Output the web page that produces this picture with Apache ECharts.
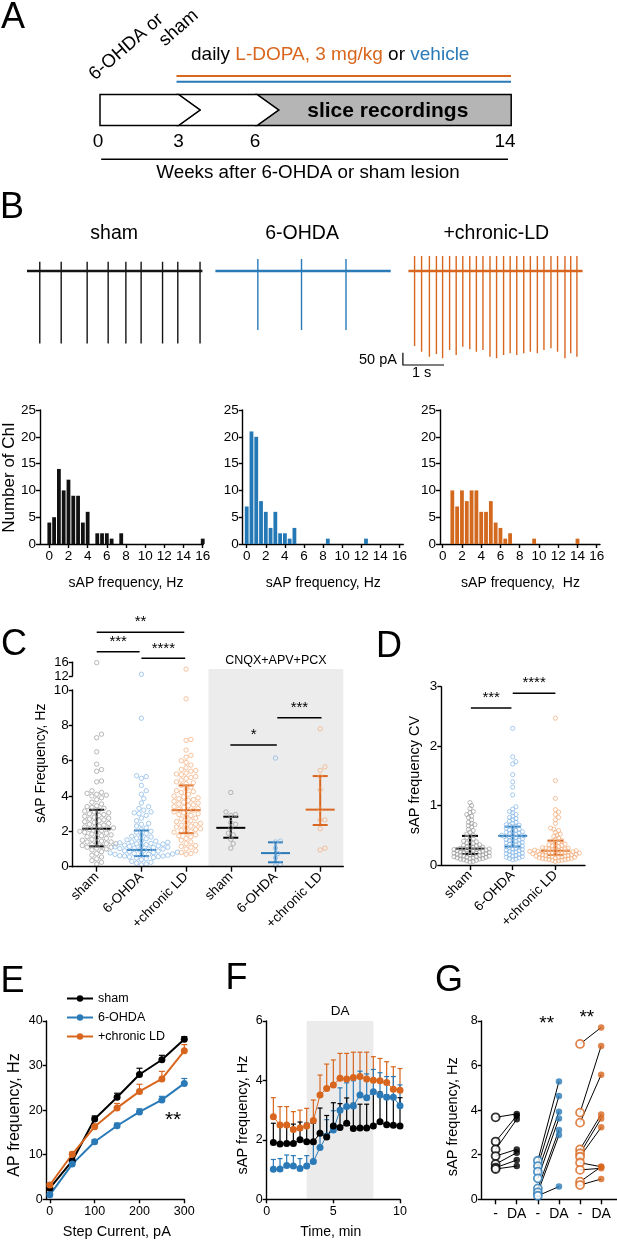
<!DOCTYPE html>
<html>
<head>
<meta charset="utf-8">
<script src="https://cdn.jsdelivr.net/npm/echarts@6/dist/echarts.min.js"></script>
<style>
html, body { margin: 0; padding: 0; background: #fff; }
#main { width: 617px; height: 1241px; }
</style>
</head>
<body>
<div id="main"></div>
<script>
const FONT = 'Liberation Sans';
const BLUE = '#2a7ab8', ORANGE = '#d8661e';
const GREY_PT = '#9c9c9c', BLUE_PT = '#86b7e6', ORANGE_PT = '#f3ad7a';

// ---- B: example traces (spike times in s, amplitudes in pA)
const shamSpikes = [0.31, 0.83, 1.46, 1.97, 2.4, 2.77, 3.29, 3.66, 4.2];
const ohdaSpikes = [1.03, 2.09, 3.17];
const ldSpikes = [0.15, 0.32, 0.51, 0.68, 0.83, 1.0, 1.16, 1.32, 1.49, 1.65, 1.81, 1.98, 2.14,
  2.31, 2.47, 2.63, 2.8, 2.96, 3.13, 3.29, 3.46, 3.62, 3.8, 3.94, 4.09];
const spikePeak = [37, 48, 60];
const shamTrough = -290, ohdaTrough = -236;
const ldTroughs = [-300, -323, -343, -332, -349, -316, -336, -303, -313, -323, -316, -343, -349,
  -336, -329, -336, -329, -323, -329, -316, -309, -323, -349, -329, -343];

// ---- B: histograms [bin, count]
const shamHist = [[0, 4], [0.5, 5], [1, 14], [1.5, 10], [2, 12], [2.5, 9], [3, 9], [3.5, 4], [4, 6],
  [5, 2], [5.5, 2], [6, 2], [6.5, 1], [7.5, 2], [16, 1]];
const ohdaHist = [[0, 7], [0.5, 21], [1, 20], [1.5, 8], [2, 6], [2.5, 3], [3, 6], [3.5, 2], [4, 2],
  [4.5, 1], [5, 3], [8.5, 1], [12.5, 1]];
const ldHist = [[1, 10], [1.5, 7], [2, 10], [2.5, 8], [3, 10], [3.5, 10], [4, 6], [4.5, 6], [5, 8],
  [5.5, 4], [6, 3], [6.5, 1], [7, 2], [9.5, 1], [14, 1]];
const histTicks = [0, 2, 4, 6, 8, 10, 12, 14, 16];

// ---- C: sAP frequency per cell, Hz
const groupLabels = ['sham', '6-OHDA', '+chronic LD'];
const cSham = [15.9, 7.5, 7.3, 6.5, 5.8, 5.5, 5.4, 4.85, 4.8, 4.3, 4.2, 4.15, 4.1, 4.05, 4.0, 3.9, 3.8,
  3.65, 3.55, 3.45, 3.4, 3.35, 3.3, 3.2, 3.15, 3.1, 3.05, 3.0, 2.95, 2.9, 2.85, 2.8, 2.75, 2.7, 2.65,
  2.6, 2.55, 2.5, 2.45, 2.4, 2.35, 2.3, 2.25, 2.2, 2.2, 2.15, 2.1, 2.05, 2.0, 1.95, 1.95, 1.9, 1.85,
  1.8, 1.75, 1.7, 1.65, 1.6, 1.55, 1.5, 1.45, 1.4, 1.4, 1.35, 1.3, 1.3, 1.25, 1.2, 1.15, 1.1, 1.1,
  1.05, 1.0, 0.95, 0.85, 0.75, 0.65, 0.55, 0.45, 0.35, 0.25, 0.15];
const cOhda = [12.5, 8.4, 5.15, 5.1, 5.0, 4.6, 4.3, 4.1, 3.85, 3.6, 3.4, 3.3, 3.2, 3.1, 3.05, 3.0,
  2.9, 2.75, 2.6, 2.45, 2.4, 2.3, 2.2, 2.1, 2.0, 1.95, 1.88, 1.8, 1.72, 1.68, 1.62, 1.58, 1.52, 1.48,
  1.45, 1.4, 1.38, 1.35, 1.32, 1.3, 1.28, 1.25, 1.22, 1.2, 1.18, 1.15, 1.12, 1.1, 1.08, 1.05, 1.02,
  1.0, 1.0, 0.95, 0.92, 0.9, 0.88, 0.85, 0.82, 0.8, 0.78, 0.75, 0.72, 0.7, 0.7, 0.68, 0.65, 0.62,
  0.6, 0.6, 0.57, 0.55, 0.52, 0.5, 0.45, 0.4, 0.3, 0.25, 0.2, 0.15, 0.1];
const cLd = [14.0, 9.5, 7.2, 7.15, 6.6, 6.3, 6.2, 6.0, 5.9, 5.75, 5.6, 5.5, 5.45, 5.4, 5.3, 5.25,
  5.2, 5.1, 5.05, 5.0, 4.9, 4.8, 4.75, 4.7, 4.6, 4.5, 4.4, 4.3, 4.25, 4.2, 4.1, 4.0, 3.95, 3.9, 3.85,
  3.8, 3.75, 3.7, 3.65, 3.6, 3.55, 3.5, 3.45, 3.4, 3.35, 3.3, 3.25, 3.2, 3.15, 3.1, 3.05, 3.0, 2.95,
  2.9, 2.8, 2.75, 2.7, 2.6, 2.55, 2.5, 2.45, 2.4, 2.35, 2.3, 2.25, 2.2, 2.15, 2.1, 2.05, 2.0, 1.95,
  1.9, 1.8, 1.75, 1.7, 1.6, 1.5, 1.4, 1.3, 1.2, 1.15, 1.1, 1.0, 0.9, 0.8, 0.75, 0.7];
const cShamBlock = [4.2, 3.1, 2.95, 2.9, 2.5, 2.4, 2.2, 1.9, 1.8, 1.55, 1.3, 1.05];
const cOhdaBlock = [6.15, 1.45, 1.4, 1.05, 0.75, 0.5, 0.1, 0.05];
const cLdBlock = [7.8, 5.65, 5.45, 5.1, 4.35, 3.25, 2.65, 2.65, 2.15, 1.05, 0.95];
const cMedian = [2.15, 0.95, 3.2, 2.2, 0.77, 3.23];
const cQ1 = [1.15, 0.6, 1.9, 1.64, 0.25, 2.36];
const cQ3 = [3.22, 2.05, 4.6, 2.83, 1.38, 5.13];
const cSigs = [[0, 13.27, 1.96], [0, 12.17, 0.96], [1.0, 11.79, 1.98], [2.99, 6.89, 4.03], [4.04, 8.43, 5.03]];
const cSigLabels = ['**', '***', '****', '*', '***'];

// ---- D: sAP frequency CV
const dSham = [1.05, 1.0, 0.95, 0.9, 0.88, 0.85, 0.82, 0.8, 0.76, 0.72, 0.7, 0.68, 0.66, 0.64, 0.6,
  0.58, 0.55, 0.52, 0.5, 0.48, 0.46, 0.44, 0.42, 0.4, 0.39, 0.37, 0.36, 0.35, 0.34, 0.33, 0.32, 0.31,
  0.3, 0.3, 0.29, 0.28, 0.28, 0.27, 0.27, 0.26, 0.26, 0.25, 0.25, 0.24, 0.24, 0.23, 0.23, 0.22, 0.22,
  0.21, 0.21, 0.2, 0.2, 0.19, 0.19, 0.18, 0.18, 0.17, 0.17, 0.16, 0.16, 0.15, 0.15, 0.14, 0.14, 0.13,
  0.13, 0.12, 0.12, 0.11, 0.11, 0.1, 0.1, 0.09, 0.08, 0.07, 0.06, 0.05];
const dOhda = [2.3, 1.82, 1.74, 1.7, 1.52, 1.4, 1.31, 1.18, 0.98, 0.94, 0.9, 0.88, 0.85, 0.82, 0.8,
  0.78, 0.76, 0.74, 0.72, 0.7, 0.68, 0.67, 0.66, 0.65, 0.64, 0.62, 0.6, 0.59, 0.58, 0.57, 0.56, 0.55,
  0.54, 0.53, 0.52, 0.51, 0.5, 0.49, 0.48, 0.48, 0.47, 0.46, 0.45, 0.44, 0.43, 0.42, 0.41, 0.4, 0.39,
  0.38, 0.37, 0.36, 0.35, 0.34, 0.33, 0.32, 0.31, 0.3, 0.29, 0.28, 0.27, 0.26, 0.25, 0.24, 0.23, 0.22,
  0.21, 0.2, 0.19, 0.18, 0.17, 0.16, 0.15, 0.14, 0.13, 0.12, 0.11, 0.1, 0.09];
const dLd = [2.47, 1.42, 1.12, 0.93, 0.89, 0.85, 0.8, 0.76, 0.7, 0.62, 0.6, 0.58, 0.55, 0.52, 0.5,
  0.48, 0.45, 0.43, 0.41, 0.4, 0.38, 0.36, 0.35, 0.34, 0.33, 0.32, 0.31, 0.3, 0.29, 0.28, 0.28, 0.27,
  0.27, 0.26, 0.26, 0.25, 0.25, 0.24, 0.24, 0.23, 0.23, 0.23, 0.22, 0.22, 0.22, 0.21, 0.21, 0.2, 0.2,
  0.2, 0.19, 0.19, 0.18, 0.18, 0.18, 0.17, 0.17, 0.16, 0.16, 0.15, 0.15, 0.15, 0.14, 0.14, 0.13, 0.13,
  0.12, 0.12, 0.11, 0.11, 0.1, 0.1, 0.09, 0.09, 0.08, 0.08, 0.07, 0.06];
const dMedian = [0.275, 0.49, 0.24];
const dQ1 = [0.185, 0.31, 0.17];
const dQ3 = [0.49, 0.645, 0.41];
const dSigs = [[0.02, 2.64, 0.97], [1.0, 2.89, 2.0]];
const dSigLabels = ['***', '****'];

// ---- E: AP frequency vs step current
const eCurrent = [0, 50, 100, 150, 200, 250, 300];
const eSham = [2.5, 8.6, 18.0, 22.9, 28.0, 31.3, 35.9];
const eOhda = [1.0, 7.9, 12.9, 16.5, 19.6, 22.3, 26.0];
const eLd = [3.2, 10.1, 16.3, 20.5, 24.2, 27.0, 33.3];
const eShamSem = [0.3, 0.5, 0.7, 0.9, 1.4, 1.0, 0.6];
const eOhdaSem = [0.3, 0.4, 0.5, 0.6, 0.7, 0.8, 1.1];
const eLdSem = [0.3, 0.5, 0.6, 1.0, 1.6, 1.7, 1.4];

// ---- F: time course with DA
const fTime = [0.5, 1, 1.5, 2, 2.5, 3, 3.5, 4, 4.5, 5, 5.5, 6, 6.5, 7, 7.5, 8, 8.5, 9, 9.5, 10];
const fSham = [1.91, 1.86, 1.88, 1.88, 2.0, 1.94, 1.94, 2.22, 2.1, 2.47, 2.42, 2.56, 2.38, 2.4, 2.4,
  2.47, 2.61, 2.51, 2.49, 2.47];
const fShamSem = [0.65, 0.65, 0.65, 0.65, 0.6, 0.62, 0.62, 0.85, 0.72, 0.78, 0.8, 0.85, 0.85, 0.8, 0.8,
  1.2, 1.0, 1.0, 0.95, 0.95];
const fOhda = [1.01, 1.02, 1.14, 1.12, 1.04, 1.12, 1.27, 1.74, 2.13, 2.33, 3.0, 3.12, 3.14, 3.51, 3.42,
  3.62, 3.51, 3.43, 3.43, 3.15];
const fOhdaSem = [0.33, 0.35, 0.35, 0.35, 0.33, 0.35, 0.6, 0.5, 0.55, 0.65, 0.75, 0.8, 0.85, 0.8, 0.8,
  0.75, 0.75, 0.7, 0.7, 0.7];
const fLd = [2.78, 2.5, 2.5, 2.35, 2.4, 2.47, 2.65, 3.51, 3.73, 3.85, 4.07, 4.05, 4.1, 4.13, 4.05, 4.01,
  3.99, 3.93, 3.7, 3.67];
const fLdSem = [0.64, 0.62, 0.62, 0.6, 0.6, 0.59, 0.69, 0.67, 0.82, 0.84, 0.84, 0.86, 0.85, 0.82, 0.9,
  0.79, 0.75, 0.7, 0.76, 0.73];

// ---- G: paired before / DA
const gTickLabels = ['-', 'DA', '-', 'DA', '-', 'DA'];
const gShamPre = [3.68, 2.59, 2.24, 1.94, 1.58, 1.42, 1.36];
const gShamDa = [3.83, 3.75, 3.59, 2.24, 2.09, 1.76, 1.49];
const gOhdaPre = [1.73, 1.49, 1.24, 0.94, 0.49, 0.31, 0.16];
const gOhdaDa = [5.29, 4.63, 3.93, 3.63, 3.11, 2.88, 0.57];
const gLdPre = [6.97, 3.89, 3.44, 2.24, 2.06, 1.91, 1.64, 1.32, 0.79, 0.64];
const gLdDa = [7.71, 6.88, 5.59, 3.81, 3.63, 3.23, 1.46, 1.39, 1.46, 0.91];

const chart = echarts.init(document.getElementById('main'));
const grids = [], xAxes = [], yAxes = [], series = [], graphics = [];
const axLine = { color: '#000', width: 1.4 };

function addGrid(box, xa, ya) {
  const i = grids.length;
  grids.push(Object.assign({ containLabel: false, outerBoundsMode: 'none' }, box));
  xAxes.push(Object.assign({ gridIndex: i }, xa));
  yAxes.push(Object.assign({ gridIndex: i }, ya));
  return i;
}
function valAxis(o, lab, tick) {
  return Object.assign({
    type: 'value',
    axisLine: { show: true, onZero: false, lineStyle: axLine },
    axisTick: Object.assign({ show: true, length: 4, lineStyle: axLine }, tick || {}),
    axisLabel: Object.assign({ color: '#000', fontFamily: FONT, fontSize: 13, margin: 4,
      hideOverlap: false, showMinLabel: true, showMaxLabel: true }, lab || {}),
    splitLine: { show: false }
  }, o);
}
function hiddenAxis(min, max) { return { type: 'value', show: false, min: min, max: max }; }
function txt(text, x, y, size, extra, rot) {
  return {
    type: 'text', x: x, y: y, rotation: rot || 0, silent: true,
    style: Object.assign({ text: text, fontSize: size, fontFamily: FONT, fill: '#000', align: 'center', verticalAlign: 'middle' }, extra || {})
  };
}
function beeswarm(vals, pxX, pxY, dia) {
  const order = vals.map((v, i) => i).sort((a, b) => vals[a] - vals[b]);
  const placed = [], out = new Array(vals.length);
  order.forEach(i => {
    const y = vals[i] * pxY;
    let off = 0;
    for (let k = 0; k < 400; k++) {
      const cand = (k % 2 ? 1 : -1) * Math.ceil(k / 2) * dia * 0.5;
      let ok = true;
      for (const p of placed) {
        const dx = p[0] - cand, dy = p[1] - y;
        if (dx * dx + dy * dy < dia * dia) { ok = false; break; }
      }
      if (ok) { off = cand; break; }
    }
    placed.push([off, y]);
    out[i] = off / pxX;
  });
  return out;
}
function iqrRender(colors, halfMed, halfCap) {
  return function (params, api) {
    const x = api.value(0);
    const pm = api.coord([x, api.value(1)]), pl = api.coord([x, api.value(2)]), ph = api.coord([x, api.value(3)]);
    const c = colors[params.dataIndex];
    const ln = (x1, y1, x2, y2) => ({ type: 'line', shape: { x1, y1, x2, y2 }, style: { stroke: c, lineWidth: 2 } });
    return { type: 'group', children: [
      ln(pm[0], pl[1], pm[0], ph[1]),
      ln(pm[0] - halfMed, pm[1], pm[0] + halfMed, pm[1]),
      ln(pm[0] - halfCap, pl[1], pm[0] + halfCap, pl[1]),
      ln(pm[0] - halfCap, ph[1], pm[0] + halfCap, ph[1])
    ] };
  };
}
function sigRender(labels, size) {
  return function (params, api) {
    const a = api.coord([api.value(0), api.value(1)]), b = api.coord([api.value(2), api.value(1)]);
    return { type: 'group', children: [
      { type: 'line', shape: { x1: a[0], y1: a[1], x2: b[0], y2: b[1] }, style: { stroke: '#000', lineWidth: 1.5 } },
      { type: 'text', x: (a[0] + b[0]) / 2, y: a[1] - 10,
        style: { text: labels[params.dataIndex], fontSize: size, fontFamily: FONT, fill: '#000', align: 'center', verticalAlign: 'middle' } }
    ] };
  };
}
function errUpRender(color, cap) {
  return function (params, api) {
    const p = api.coord([api.value(0), api.value(1)]);
    const q = api.coord([api.value(0), api.value(1) + api.value(2)]);
    return { type: 'group', children: [
      { type: 'line', shape: { x1: p[0], y1: p[1], x2: q[0], y2: q[1] }, style: { stroke: color, lineWidth: 1.2 } },
      { type: 'line', shape: { x1: q[0] - cap, y1: q[1], x2: q[0] + cap, y2: q[1] }, style: { stroke: color, lineWidth: 1.2 } }
    ] };
  };
}
function textRender(labels, size) {
  return function (params, api) {
    const p = api.coord([api.value(0), api.value(1)]);
    return { type: 'text', x: p[0], y: p[1],
      style: { text: labels[params.dataIndex], fontSize: size, fontFamily: FONT, fill: '#000', align: 'center', verticalAlign: 'middle' } };
  };
}
function openScatter(g, data, color, size, bw) {
  return { type: 'scatter', xAxisIndex: g, yAxisIndex: g, data: data, symbol: 'circle', symbolSize: size,
    itemStyle: { color: 'rgba(255,255,255,0)', borderColor: color, borderWidth: bw }, silent: true };
}

// ================= B traces =================
const traceBoxes = [[27, 175.4], [215.4, 175.3], [408.4, 174.2]];
const traceSpikes = [shamSpikes, ohdaSpikes, ldSpikes];
const traceColors = ['#141414', BLUE, ORANGE];
const pxPerSec = 41.2;
traceBoxes.forEach((box, i) => {
  const secs = box[1] / pxPerSec;
  const g = addGrid({ left: box[0], top: 251, width: box[1], height: 125 }, hiddenAxis(0, secs), hiddenAxis(-420, 80));
  series.push({ type: 'line', xAxisIndex: g, yAxisIndex: g, data: [[0, 0], [secs, 0]], symbol: 'none',
    lineStyle: { color: traceColors[i], width: 2.4 }, silent: true });
  const data = traceSpikes[i].map((t, k) => [t, spikePeak[i], i === 0 ? shamTrough : i === 1 ? ohdaTrough : ldTroughs[k]]);
  series.push({ type: 'custom', xAxisIndex: g, yAxisIndex: g, data: data, silent: true,
    renderItem: function (params, api) {
      const a = api.coord([api.value(0), api.value(1)]), b = api.coord([api.value(0), api.value(2)]);
      return { type: 'line', shape: { x1: a[0], y1: a[1], x2: b[0], y2: b[1] }, style: { stroke: traceColors[i], lineWidth: 1.4 } };
    } });
});

// ================= B histograms =================
const histBoxes = [
  { left: 40, width: 163.3, min: -0.97, max: 16.06 },
  { left: 242.7, width: 160.6, min: -0.42, max: 16.41 },
  { left: 440, width: 160, min: -0.28, max: 16.34 }
];
const histData = [shamHist, ohdaHist, ldHist];
const histColors = ['#111111', '#2378b5', '#d2691e'];
histBoxes.forEach((b, i) => {
  const g = addGrid({ left: b.left, top: 410, width: b.width, height: 134 },
    valAxis({ min: b.min, max: b.max }, { customValues: histTicks, fontSize: 13.5, margin: 5 }, { customValues: histTicks }),
    valAxis({ min: 0, max: 25, interval: 5 }, { fontSize: 13.5 }));
  series.push({ type: 'bar', xAxisIndex: g, yAxisIndex: g, data: histData[i], barWidth: 3.8,
    itemStyle: { color: histColors[i] }, silent: true });
});

// ================= C =================
const cLeft = 72.7, cWidth = 270.6, cMin = -0.537, cMax = 5.517;
const cPxX = cWidth / (cMax - cMin), cPxY = 176.7 / 10;
const gCU = addGrid({ left: cLeft, top: 662.3, width: cWidth, height: 13.7 }, hiddenAxis(cMin, cMax),
  valAxis({ min: 12, max: 16, interval: 4 }, { fontSize: 13, customValues: [12, 16] }, { customValues: [12, 16] }));
const gCO = addGrid({ left: cLeft, top: 600, width: cWidth, height: 266.7 }, hiddenAxis(cMin, cMax),
  hiddenAxis(0, 266.7 / cPxY));
const cTicks = [0, 1, 2, 3, 4, 5];
const gCL = addGrid({ left: cLeft, top: 690, width: cWidth, height: 176.7 },
  valAxis({ min: cMin, max: cMax, z: 5 }, { customValues: cTicks, rotate: 45, fontSize: 13.5, margin: 8,
    formatter: v => groupLabels[Math.round(v) % 3] }, { customValues: cTicks, length: 5 }),
  valAxis({ min: 0, max: 10, interval: 2, z: 5 }, { fontSize: 13.5 }));

// shaded block region + label
series.push({ type: 'line', xAxisIndex: gCO, yAxisIndex: gCO, data: [], z: 1, silent: true,
  markArea: { silent: true, itemStyle: { color: '#ececec' },
    label: { show: true, position: 'top', distance: 2, formatter: 'CNQX+APV+PCX', fontFamily: FONT, fontSize: 12.5, color: '#000' },
    data: [[{ xAxis: 2.5, yAxis: 0.04 }, { xAxis: cMax, yAxis: (866.7 - 669) / cPxY }]] } });
series.push({ type: 'custom', xAxisIndex: gCO, yAxisIndex: gCO, data: cSigs, renderItem: sigRender(cSigLabels, 15), silent: true });

const cGroups = [cSham, cOhda, cLd, cShamBlock, cOhdaBlock, cLdBlock];
const cPtColors = [GREY_PT, BLUE_PT, ORANGE_PT, GREY_PT, BLUE_PT, ORANGE_PT];
cGroups.forEach((vals, gi) => {
  const low = vals.filter(v => v <= 10), high = vals.filter(v => v > 10);
  const off = beeswarm(low, cPxX, cPxY, 4.8);
  series.push(openScatter(gCL, low.map((v, k) => [gi + off[k], v]), cPtColors[gi], 4.4, 0.9));
  if (high.length) series.push(openScatter(gCU, high.map(v => [gi, v]), cPtColors[gi], 4.4, 0.9));
});
series.push({ type: 'custom', xAxisIndex: gCL, yAxisIndex: gCL, silent: true,
  data: cTicks.map(i => [i, cMedian[i], cQ1[i], cQ3[i]]),
  renderItem: iqrRender(['#000', BLUE, ORANGE, '#000', BLUE, ORANGE], 14.5, 7.5) });

// ================= D =================
const dMin = -0.672, dMax = 2.693, dWidth = 143.7;
const dPxX = dWidth / (dMax - dMin), dPxY = 178.3 / 3;
const dTicks = [0, 1, 2];
const gD = addGrid({ left: 441.3, top: 686.7, width: dWidth, height: 178.3 },
  valAxis({ min: dMin, max: dMax }, { customValues: dTicks, rotate: 45, fontSize: 13.5, margin: 8,
    formatter: v => groupLabels[Math.round(v)] }, { customValues: dTicks, length: 5 }),
  valAxis({ min: 0, max: 3, interval: 1 }, { fontSize: 13.5 }));
[dSham, dOhda, dLd].forEach((vals, gi) => {
  const off = beeswarm(vals, dPxX, dPxY, 3.2);
  series.push(openScatter(gD, vals.map((v, k) => [gi + off[k], v]), cPtColors[gi], 4.2, 0.9));
});
series.push({ type: 'custom', xAxisIndex: gD, yAxisIndex: gD, silent: true,
  data: dTicks.map(i => [i, dMedian[i], dQ1[i], dQ3[i]]),
  renderItem: iqrRender(['#000', BLUE, ORANGE], 14.5, 8) });
series.push({ type: 'custom', xAxisIndex: gD, yAxisIndex: gD, data: dSigs, renderItem: sigRender(dSigLabels, 15), silent: true });

// ================= E =================
const gE = addGrid({ left: 46.7, top: 1021, width: 137.6, height: 178.3 },
  valAxis({ min: -7, max: 300 }, { customValues: [0, 100, 200, 300], fontSize: 12.5, margin: 6 }, { customValues: [0, 100, 200, 300] }),
  valAxis({ min: 0, max: 40, interval: 10 }, { fontSize: 12.5 }));
const eSeries = [['sham', eSham, eShamSem, '#000'], ['6-OHDA', eOhda, eOhdaSem, BLUE], ['+chronic LD', eLd, eLdSem, ORANGE]];
eSeries.forEach(s => {
  series.push({ type: 'custom', xAxisIndex: gE, yAxisIndex: gE, silent: true,
    data: eCurrent.map((x, k) => [x, s[1][k], s[2][k]]), renderItem: errUpRender(s[3], 3) });
});
eSeries.forEach(s => {
  series.push({ name: s[0], type: 'line', xAxisIndex: gE, yAxisIndex: gE, data: eCurrent.map((x, k) => [x, s[1][k]]),
    symbol: 'circle', symbolSize: 7, color: s[3], lineStyle: { color: s[3], width: 2 }, itemStyle: { color: s[3] }, silent: true });
});
series.push({ type: 'custom', xAxisIndex: gE, yAxisIndex: gE, data: [[275, 17.8]], renderItem: textRender(['**'], 21), silent: true });

// ================= F =================
const gF = addGrid({ left: 266.7, top: 1021, width: 133.3, height: 178.3 },
  valAxis({ min: 0, max: 10, interval: 5, z: 5 }, { fontSize: 12.5, margin: 6 }),
  valAxis({ min: 0, max: 6, interval: 2, z: 5 }, { fontSize: 12.5 }));
series.push({ type: 'line', xAxisIndex: gF, yAxisIndex: gF, data: [], z: 1, silent: true,
  markArea: { silent: true, itemStyle: { color: '#ebebeb' },
    label: { show: true, position: 'top', distance: 3, formatter: 'DA', fontFamily: FONT, fontSize: 13.5, color: '#000' },
    data: [[{ xAxis: 3, yAxis: 0.03 }, { xAxis: 8, yAxis: 6 }]] } });
const fSeries = [['F +chronic LD', fLd, fLdSem, ORANGE], ['F 6-OHDA', fOhda, fOhdaSem, BLUE], ['F sham', fSham, fShamSem, '#000']];
fSeries.forEach(s => {
  series.push({ type: 'custom', xAxisIndex: gF, yAxisIndex: gF, silent: true,
    data: fTime.map((x, k) => [x, s[1][k], s[2][k]]), renderItem: errUpRender(s[3], 2.5) });
});
fSeries.forEach(s => {
  series.push({ name: s[0], type: 'line', xAxisIndex: gF, yAxisIndex: gF, data: fTime.map((x, k) => [x, s[1][k]]),
    symbol: 'circle', symbolSize: 7, lineStyle: { color: s[3], width: 1 }, itemStyle: { color: s[3] }, silent: true });
});

// ================= G =================
const gTicks = [0, 1, 2, 3, 4, 5];
const gG = addGrid({ left: 481.7, top: 1021, width: 135.3, height: 178.3 },
  valAxis({ min: -0.66, max: 5.75 }, { customValues: gTicks, fontSize: 14, margin: 8, formatter: v => gTickLabels[Math.round(v)] },
    { customValues: gTicks, length: 5 }),
  valAxis({ min: 0, max: 8, interval: 2 }, { fontSize: 12.5 }));
const gPairs = [[gShamPre, gShamDa, '#000'], [gOhdaPre, gOhdaDa, BLUE], [gLdPre, gLdDa, ORANGE]];
gPairs.forEach((p, gi) => {
  series.push({ type: 'custom', xAxisIndex: gG, yAxisIndex: gG, silent: true,
    data: p[0].map((v, k) => [2 * gi, v, 2 * gi + 1, p[1][k]]),
    renderItem: function (params, api) {
      const a = api.coord([api.value(0), api.value(1)]), b = api.coord([api.value(2), api.value(3)]);
      return { type: 'line', shape: { x1: a[0], y1: a[1], x2: b[0], y2: b[1] }, style: { stroke: '#000', lineWidth: 1 } };
    } });
});
gPairs.forEach((p, gi) => {
  series.push({ type: 'scatter', xAxisIndex: gG, yAxisIndex: gG, data: p[0].map(v => [2 * gi, v]), symbol: 'circle', symbolSize: 8,
    itemStyle: { color: '#fff', borderColor: p[2], borderWidth: 1.8 }, silent: true });
  series.push({ type: 'scatter', xAxisIndex: gG, yAxisIndex: gG, data: p[1].map(v => [2 * gi + 1, v]), symbol: 'circle', symbolSize: 6.5,
    itemStyle: { color: p[2] }, silent: true });
});
series.push({ type: 'custom', xAxisIndex: gG, yAxisIndex: gG, data: [[2.42, 7.86], [4.32, 8.14]], renderItem: textRender(['**', '**'], 19), silent: true });

// ================= text & schematic =================
// Panel A
const rotA = 41 * Math.PI / 180;
graphics.push(txt('A', 13, 18, 36));
graphics.push(txt('6-OHDA or', 98, 84, 18.5, { align: 'left', verticalAlign: 'bottom' }, rotA));
graphics.push(txt('sham', 168, 50, 18.5, { align: 'left', verticalAlign: 'bottom' }, rotA));
graphics.push(txt('{k|daily }{o|L-DOPA, 3 mg/kg}{k| or }{b|vehicle}', 191, 55, 19, {
  align: 'left', rich: { k: { fill: '#000', fontSize: 19, fontFamily: FONT }, o: { fill: ORANGE, fontSize: 19, fontFamily: FONT },
    b: { fill: BLUE, fontSize: 19, fontFamily: FONT } } }));
graphics.push({ type: 'line', silent: true, shape: { x1: 176.5, y1: 76, x2: 511, y2: 76 }, style: { stroke: ORANGE, lineWidth: 2 } });
graphics.push({ type: 'line', silent: true, shape: { x1: 176.5, y1: 81.7, x2: 511, y2: 81.7 }, style: { stroke: BLUE, lineWidth: 2 } });
graphics.push({ type: 'polygon', silent: true, shape: { points: [[257, 94.5], [511.2, 94.5], [511.2, 125.5], [257, 125.5], [278.6, 110]] },
  style: { fill: '#b5b5b5', stroke: '#000', lineWidth: 1.5 } });
graphics.push({ type: 'polygon', silent: true, shape: { points: [[178.5, 94.5], [257, 94.5], [278.6, 110], [257, 125.5], [178.5, 125.5], [200, 110]] },
  style: { fill: '#fff', stroke: '#000', lineWidth: 1.5 } });
graphics.push({ type: 'polygon', silent: true, shape: { points: [[100, 94.5], [178.5, 94.5], [200, 110], [178.5, 125.5], [100, 125.5]] },
  style: { fill: '#fff', stroke: '#000', lineWidth: 1.5 } });
graphics.push(txt('slice recordings', 387.8, 111, 21, { fontWeight: 'bold' }));
[['0', 98], ['3', 178.5], ['6', 255], ['14', 505]].forEach(t => graphics.push(txt(t[0], t[1], 141.7, 19)));
graphics.push({ type: 'line', silent: true, shape: { x1: 101.2, y1: 159.3, x2: 508, y2: 159.3 }, style: { stroke: '#000', lineWidth: 1.5 } });
graphics.push(txt('Weeks after 6-OHDA or sham lesion', 308, 172.7, 18.8));

// Panel B
graphics.push(txt('B', 12, 208.5, 36));
graphics.push(txt('sham', 114.2, 233.3, 19.5));
graphics.push(txt('6-OHDA', 302.1, 233.3, 19.5));
graphics.push(txt('+chronic-LD', 496.3, 233.3, 19.5));
graphics.push({ type: 'polyline', silent: true, shape: { points: [[402.9, 352.7], [402.9, 365], [444, 365]] },
  style: { stroke: '#000', lineWidth: 1.2, fill: null } });
graphics.push(txt('50 pA', 378, 360, 14.5));
graphics.push(txt('1 s', 421.7, 373, 14.5));
graphics.push(txt('Number of ChI', 9, 477.5, 17, null, Math.PI / 2));
graphics.push(txt('sAP frequency, Hz', 126, 583.3, 14));
graphics.push(txt('sAP frequency, Hz', 323.3, 583.3, 14));
graphics.push(txt('sAP frequency,  Hz', 520.5, 583.3, 14));

// Panels C-G
graphics.push(txt('C', 14, 645, 36));
graphics.push(txt('D', 389, 646.7, 36));
graphics.push(txt('sAP Frequency, Hz', 40.7, 763.3, 14, null, Math.PI / 2));
graphics.push(txt('sAP frequency CV', 415, 775, 14.5, null, Math.PI / 2));
graphics.push(txt('E', 12.5, 981.7, 36));
graphics.push(txt('F', 236.5, 979, 36));
graphics.push(txt('G', 449, 980.8, 36));
graphics.push(txt('AP frequency, Hz', 15, 1115, 16, null, Math.PI / 2));
graphics.push(txt('Step Current, pA', 116.8, 1231.7, 14.5));
graphics.push(txt('sAP frequency, Hz', 243.3, 1115, 14.5, null, Math.PI / 2));
graphics.push(txt('Time, min', 330.8, 1231.7, 14));
graphics.push(txt('sAP frequency, Hz', 453.3, 1116.7, 14.5, null, Math.PI / 2));

chart.setOption({
  animation: false,
  backgroundColor: '#fff',
  textStyle: { fontFamily: FONT },
  grid: grids,
  xAxis: xAxes,
  yAxis: yAxes,
  legend: [{
    data: ['sham', '6-OHDA', '+chronic LD'], orient: 'vertical', left: 61, top: 987, itemWidth: 26, itemHeight: 8, itemGap: 6,
    selectedMode: false, textStyle: { fontFamily: FONT, fontSize: 12.5, color: '#000' }
  }],
  graphic: graphics,
  series: series
});
</script>
</body>
</html>
